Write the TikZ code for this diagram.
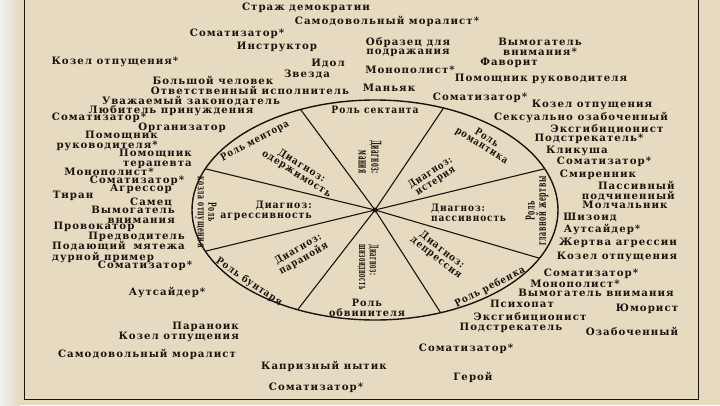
\documentclass[tikz,border=0pt]{standalone}
\usepackage{fontspec}
\newfontfamily\scanfont[LetterSpace=10]{DejaVu Serif}
\definecolor{paper}{RGB}{230,219,193}
\definecolor{ink}{RGB}{25,20,15}
\tikzset{
  lbl/.style={font={\scanfont\bfseries\fontsize{10.2}{9.4}\selectfont}, text=ink, inner sep=0pt, align=center},
  rim/.style={draw=ink, line width=1.4pt},
  spoke/.style={draw=ink, line width=1.1pt},
  frameline/.style={draw=ink, line width=1pt},
}
\begin{document}
\begin{tikzpicture}[x=1pt,y=-1pt]
  \useasboundingbox (0,0) rectangle (720,405);
  \fill[paper] (0,0) rectangle (720,405);
  \shade[left color=gray!12, right color=paper] (0,0) rectangle (20,405);
  \draw[frameline] (24,0) -- (24,399) -- (698,399) -- (698,0);
  % wheel
  \coordinate (hub) at (375,210);
  \draw[rim] (hub) ellipse [x radius=183pt, y radius=110pt];
  \foreach \a [count=\i] in {22,68,114,158,202,245,291,334}
    \path (hub) ++(\a:183pt and 110pt) coordinate (s\i);
  \foreach \i in {1,...,8} \draw[spoke] (hub) -- (s\i);
  \fill[ink] (hub) circle (2.5pt);
  % roles and diagnoses
  \node[lbl,xscale=0.9] (rsekt) at (375,110) {Роль сектанта};
  \node[lbl,rotate=28,xscale=0.82] (rmentor) at (255,141) {Роль ментора};
  \node[lbl,rotate=-32,xscale=0.82] (rroman) at (484,142) {Роль\\романтика};
  \node[lbl,rotate=90,xscale=0.62,yscale=1.2] (rzhertv) at (537,211) {Роль\\главной жертвы};
  \node[lbl,rotate=27,xscale=0.85] (rrebenok) at (490,287) {Роль ребенка};
  \node[lbl,xscale=0.95] (robvin) at (367,308) {Роль\\обвинителя};
  \node[lbl,rotate=-34,xscale=0.85] (rbunt) at (249,282) {Роль бунтаря};
  \node[lbl,rotate=-90,xscale=0.6,yscale=1.1] (rkozel) at (206,212) {Роль\\козла отпущения};
  \node[lbl,rotate=-32,xscale=0.88] (dodersh) at (299,170) {Диагноз:\\одержимость};
  \node[lbl,rotate=-90,xscale=0.55,yscale=1.35,align=right] (dmania) at (370,157) {Диагноз:\\мания};
  \node[lbl,rotate=33,xscale=0.82] (dister) at (433,177) {Диагноз:\\истерия};
  \node[lbl,xscale=0.88,align=left,anchor=west] (dpassiv) at (431,213) {Диагноз:\\пассивность};
  \node[lbl,rotate=-38,xscale=0.88] (ddepr) at (439,254) {Диагноз:\\депрессия};
  \node[lbl,rotate=-90,xscale=0.5,yscale=1.15,align=left] (dshiz) at (368,267) {Диагноз:\\шизоидность};
  \node[lbl,rotate=30,xscale=0.85] (dparan) at (301,254) {Диагноз:\\паранойя};
  \node[lbl,xscale=0.92,align=right,anchor=east] (dagress) at (312,211) {Диагноз:\\агрессивность};
  % top
  \node[lbl] (strazh) at (306,8) {Страж демократии};
  \node[lbl] (moral1) at (387,21) {Самодовольный моралист*};
  \node[lbl] (somat1) at (237,34) {Соматизатор*};
  \node[lbl] (instr) at (277,47) {Инструктор};
  \node[lbl] (obrazec) at (408,47) {Образец для\\подражания};
  \node[lbl] (vymog1) at (540,47) {Вымогатель\\внимания*};
  \node[lbl] (kozel1) at (115,62) {Козел отпущения*};
  \node[lbl] (idol) at (328,63) {Идол};
  \node[lbl] (favor) at (509,63) {Фаворит};
  \node[lbl] (monop1) at (410,70) {Монополист*};
  \node[lbl] (zvezda) at (307,74) {Звезда};
  \node[lbl] (pomruk1) at (541,79) {Помощник руководителя};
  \node[lbl] (bolshoi) at (213,80) {Большой человек};
  \node[lbl] (manyak) at (389,88) {Маньяк};
  \node[lbl] (otvet) at (250,90) {Ответственный исполнитель};
  \node[lbl] (somat2) at (480,98) {Соматизатор*};
  \node[lbl] (uvazh) at (191,101) {Уважаемый законодатель};
  \node[lbl] (kozel2) at (592,105) {Козел отпущения};
  \node[lbl] (lyubit) at (171,111) {Любитель принуждения};
  \node[lbl] (seks) at (581,117) {Сексуально озабоченный};
  \node[lbl] (somat3) at (99,118) {Соматизатор*};
  \node[lbl] (organ) at (182,128) {Организатор};
  \node[lbl] (eksg1) at (607,129) {Эксгибиционист};
  % left
  \node[lbl,align=right,anchor=east] (pomruk2) at (158,141) {Помощник\\руководителя*};
  \node[lbl,align=right,anchor=east] (pomter) at (192,159) {Помощник\\терапевта};
  \node[lbl] (monop2) at (109,172) {Монополист*};
  \node[lbl] (somat4) at (137,181) {Соматизатор*};
  \node[lbl] (agress) at (141,189) {Агрессор};
  \node[lbl] (tiran) at (73,196) {Тиран};
  \node[lbl] (samec) at (151,202) {Самец};
  \node[lbl,align=right,anchor=east] (vymog2) at (175,215) {Вымогатель\\внимания};
  \node[lbl] (provok) at (94,227) {Провокатор};
  \node[lbl,align=right,anchor=east] (predv) at (185,241) {Предводитель\\мятежа};
  \node[lbl,align=left,anchor=west] (podayu) at (52,252) {Подающий\\дурной пример};
  \node[lbl] (somat5) at (145,266) {Соматизатор*};
  % bottom
  \node[lbl] (auts1) at (167,292) {Аутсайдер*};
  \node[lbl,anchor=east] (paran) at (239,327) {Параноик};
  \node[lbl,anchor=east] (kozel3) at (239,337) {Козел отпущения};
  \node[lbl] (moral2) at (147,354) {Самодовольный моралист};
  \node[lbl] (kapriz) at (324,366) {Капризный нытик};
  \node[lbl] (somat6) at (316,388) {Соматизатор*};
  % right
  \node[lbl] (podstr1) at (589,139) {Подстрекатель*};
  \node[lbl] (klik) at (577,151) {Кликуша};
  \node[lbl] (somat7) at (604,162) {Соматизатор*};
  \node[lbl] (smiren) at (598,175) {Смиренник};
  \node[lbl,align=right,anchor=east] (passiv) at (675,191) {Пассивный\\подчиненный};
  \node[lbl] (molch) at (625,205) {Молчальник};
  \node[lbl] (shiz) at (590,217) {Шизоид};
  \node[lbl] (auts2) at (602,229) {Аутсайдер*};
  \node[lbl] (zhertva) at (618,243) {Жертва агрессии};
  \node[lbl] (kozel4) at (617,257) {Козел отпущения};
  \node[lbl] (somat8) at (591,274) {Соматизатор*};
  \node[lbl] (monop3) at (575,284) {Монополист*};
  \node[lbl] (vymog3) at (596,293) {Вымогатель внимания};
  \node[lbl] (psiho) at (522,304) {Психопат};
  \node[lbl] (yumor) at (647,309) {Юморист};
  \node[lbl] (eksg2) at (530,317) {Эксгибиционист};
  \node[lbl] (podstr2) at (511,328) {Подстрекатель};
  \node[lbl] (ozab) at (632,331) {Озабоченный};
  \node[lbl] (somat9) at (466,349) {Соматизатор*};
  \node[lbl] (geroi) at (473,377) {Герой};
\end{tikzpicture}
\end{document}
